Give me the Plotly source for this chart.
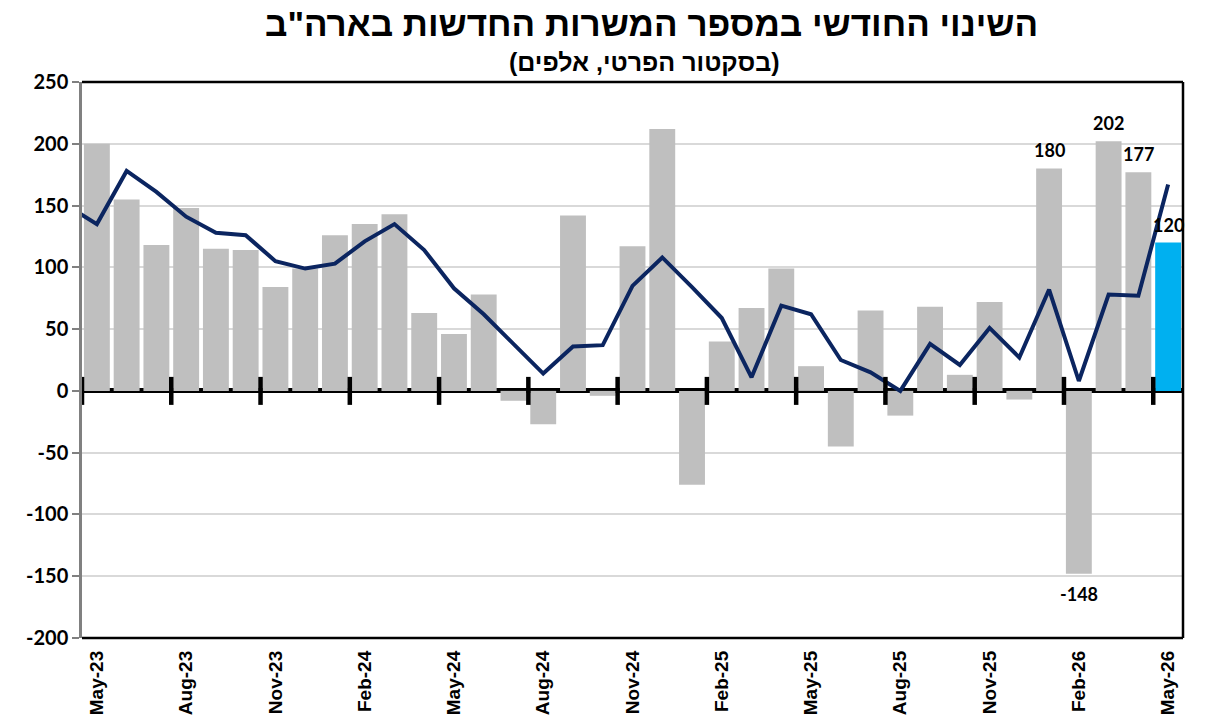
import plotly.graph_objects as go

# --- data (thousands of jobs, private sector) ---
months = ['Apr-23',
          'May-23', 'Jun-23', 'Jul-23', 'Aug-23', 'Sep-23', 'Oct-23', 'Nov-23', 'Dec-23',
          'Jan-24', 'Feb-24', 'Mar-24', 'Apr-24', 'May-24', 'Jun-24', 'Jul-24', 'Aug-24',
          'Sep-24', 'Oct-24', 'Nov-24', 'Dec-24', 'Jan-25', 'Feb-25', 'Mar-25', 'Apr-25',
          'May-25', 'Jun-25', 'Jul-25', 'Aug-25', 'Sep-25', 'Oct-25', 'Nov-25', 'Dec-25',
          'Jan-26', 'Feb-26', 'Mar-26', 'Apr-26', 'May-26']

monthly_change = [None,
                  200, 155, 118, 148, 115, 114, 84, 99,
                  126, 135, 143, 63, 46, 78, -8, -27,
                  142, -4, 117, 212, -76, 40, 67, 99,
                  20, -45, 65, -20, 68, 13, 72, -7,
                  180, -148, 202, 177, 120]

avg_change = [150,
              135, 178, 161, 141, 128, 126, 105, 99,
              103, 121, 135, 114, 83, 62, 38, 14,
              36, 37, 85, 108, 84, 59, 11, 69,
              62, 25, 15, 0, 38, 21, 51, 27,
              82, 8, 78, 77, 167]

labelled = ['Jan-26', 'Feb-26', 'Mar-26', 'Apr-26', 'May-26']

y_ticks = [-200, -150, -100, -50, 0, 50, 100, 150, 200, 250]

title = 'השינוי החודשי במספר המשרות החדשות בארה"ב'
subtitle = '(בסקטור הפרטי, אלפים)'

# --- styling ---
GREY = '#bfbfbf'
BLUE = '#00b0f0'
NAVY = '#0b2560'
NUM_FONT = 'Lato, "Liberation Sans", Arial, sans-serif'
TXT_FONT = '"Liberation Sans", Arial, sans-serif'

x = list(range(len(months)))
bar_colors = [BLUE if i == len(months) - 1 else GREY for i in x]
# every third month from May-23 gets a label; tick marks sit on the boundary
label_idx = x[1::3]
tick_pos = [i - 0.5 for i in label_idx]

fig = go.Figure()

fig.add_trace(go.Bar(
    x=x, y=monthly_change,
    marker=dict(color=bar_colors, line=dict(width=0)),
    hoverinfo='x+y', showlegend=False,
))

fig.add_trace(go.Scatter(
    x=x, y=avg_change, mode='lines',
    line=dict(color=NAVY, width=4),
    showlegend=False,
))

# tick marks drawn across the zero line
fig.add_trace(go.Scatter(
    x=tick_pos, y=[0] * len(tick_pos), mode='markers',
    marker=dict(symbol='line-ns', size=20, line=dict(color='black', width=4.5)),
    cliponaxis=False, hoverinfo='skip', showlegend=False,
))

for m in labelled:
    i = months.index(m)
    v = monthly_change[i]
    fig.add_annotation(
        x=i, y=v, text=str(v), showarrow=False,
        yshift=18 if v > 0 else -20,
        font=dict(family=NUM_FONT, size=18, color='black', weight='bold'),
    )

fig.add_annotation(
    xref='paper', yref='paper', x=0.517, y=1.106, yanchor='middle',
    text=title, showarrow=False,
    font=dict(family=TXT_FONT, size=35, color='black', weight='bold'),
)
fig.add_annotation(
    xref='paper', yref='paper', x=0.51, y=1.036, yanchor='middle',
    text=subtitle, showarrow=False,
    font=dict(family=TXT_FONT, size=25, color='black', weight='bold'),
)

# black frame on top, right and bottom (left axis stays grey)
for x0, y0, x1, y1 in [(0, 1, 1, 1), (1, 0, 1, 1), (0, 0, 1, 0)]:
    fig.add_shape(type='line', xref='x domain', yref='y domain',
                  x0=x0, y0=y0, x1=x1, y1=y1,
                  line=dict(color='black', width=2.5))

fig.update_layout(
    width=1216, height=727, autosize=False,
    margin=dict(l=82, r=33, t=82, b=87),
    plot_bgcolor='white', paper_bgcolor='white',
    bargap=0.13,
    xaxis=dict(
        range=[0.5, len(months) - 0.5],
        tickmode='array', tickvals=label_idx,
        ticktext=[months[i] for i in label_idx],
        tickangle=-90, ticks='', showgrid=False, zeroline=False,
        ticklabelstandoff=8,
        tickfont=dict(family=TXT_FONT, size=19, color='black', weight='bold'),
    ),
    yaxis=dict(
        range=[-200, 250],
        tickmode='array', tickvals=y_ticks, ticktext=[str(v) for v in y_ticks],
        showgrid=True, gridcolor='#d9d9d9', gridwidth=1.5,
        zeroline=True, zerolinecolor='black', zerolinewidth=5,
        showline=True, linecolor='#808080', linewidth=2.5,
        ticks='outside', ticklen=7, tickcolor='#808080', tickwidth=2,
        tickfont=dict(family=NUM_FONT, size=20, color='black', weight='bold'),
    ),
)

fig.write_html('out.html', config={'displayModeBar': False},
               post_script="document.body.style.margin = '0';")
